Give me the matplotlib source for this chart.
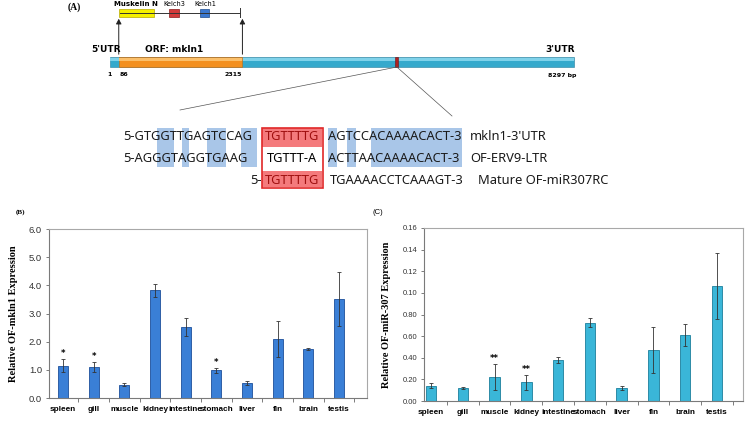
"""Figure: mkln1 transcript / miR307 target site and tissue expression (B, C)."""
import matplotlib
matplotlib.use("Agg")
import matplotlib.pyplot as plt
from matplotlib.patches import Rectangle, FancyArrowPatch

# ---------------------------------------------------------------------
# data
# ---------------------------------------------------------------------
TISSUES = ["spleen", "gill", "muscle", "kidney", "intestine",
           "stomach", "liver", "fin", "brain", "testis"]

MKLN1_MEAN = [1.15, 1.10, 0.47, 3.82, 2.52, 0.98, 0.53, 2.09, 1.74, 3.50]
MKLN1_ERR = [0.23, 0.18, 0.06, 0.24, 0.32, 0.09, 0.06, 0.64, 0.04, 0.96]
MKLN1_SIG = ["*", "*", "", "", "", "*", "", "", "", ""]
MKLN1_TICKS = [0, 1, 2, 3, 4, 5, 6]
MKLN1_TICKLABELS = ["0.0", "1.0", "2.0", "3.0", "4.0", "5.0", "6.0"]

MIR_MEAN = [0.0142, 0.0117, 0.0225, 0.0172, 0.0378,
            0.0726, 0.0117, 0.0474, 0.0609, 0.1065]
MIR_ERR = [0.0021, 0.0009, 0.0120, 0.0068, 0.0025,
           0.0046, 0.0018, 0.0215, 0.0099, 0.0307]
MIR_SIG = ["", "", "**", "**", "", "", "", "", "", ""]
MIR_TICKS = [0, 0.02, 0.04, 0.06, 0.08, 0.10, 0.12, 0.14, 0.16]
# labels exactly as printed in the original panel
MIR_TICKLABELS = ["0.00", "0.20", "0.40", "0.60", "0.80",
                  "0.10", "0.12", "0.14", "0.16"]

# transcript schematic (bp)
GENE_LEN = 8297
ORF_START, ORF_END = 86, 2315
SITE_POS = 5130

SEQ_ROWS = [
    ("5-GTGGTTGAGTCCAG", "TGTTTTG", "AGTCCACAAAACACT-3", "mkln1-3'UTR"),
    ("5-AGGGTAGGTGAAG", "TGTTT-A", "ACTTAACAAAACACT-3", "OF-ERV9-LTR"),
    ("5-", "TGTTTTG", "TGAAAACCTCAAAGT-3", "Mature OF-miR307RC"),
]

SANS = ["Liberation Sans", "DejaVu Sans"]
SERIF = ["Liberation Serif", "DejaVu Serif"]
SEQ_FONT = ["Noto Sans", "DejaVu Sans"]

W, H = 745, 421
fig = plt.figure(figsize=(W / 100, H / 100), dpi=100)

# ---------------------------------------------------------------------
# (A) schematic, drawn in pixel coordinates on an overlay axes
# ---------------------------------------------------------------------
axa = fig.add_axes([0, 0, 1, 1])
axa.set_xlim(0, W)
axa.set_ylim(H, 0)
axa.set_axis_off()

BAR_X0, BAR_X1 = 110, 574


def px(bp):
    return BAR_X0 + (bp - 1) / (GENE_LEN - 1) * (BAR_X1 - BAR_X0)


axa.text(68, 7, "(A)", fontsize=7, fontweight="bold", family=SERIF, va="center")

# protein domain track
axa.plot([120, 240], [12.5, 12.5], color="#333333", lw=0.7)
axa.plot([240, 240], [8, 17], color="#333333", lw=0.7)
axa.add_patch(Rectangle((119, 8.5), 35, 8, fc="#f5f000", ec="#b8a800", lw=0.5))
axa.add_patch(Rectangle((169, 8.5), 10, 8, fc="#d23a3a", ec="#8a1a1a", lw=0.5))
axa.add_patch(Rectangle((200, 8.5), 9, 8, fc="#3b78d0", ec="#1c4a8c", lw=0.5))
axa.text(136, 3.5, "Muskelin N", fontsize=5, fontweight="bold", ha="center", va="center")
axa.text(174, 4.5, "Kelch3", fontsize=4.8, ha="center", va="center")
axa.text(205, 4.5, "Kelch1", fontsize=4.8, ha="center", va="center")

orf_x0 = px(ORF_START) + 4
orf_x1 = px(ORF_END) + 3
for x in (orf_x0, orf_x1):
    axa.add_patch(FancyArrowPatch((x, 57), (x, 16), arrowstyle="-|>,head_length=3,head_width=1.6",
                                  color="#222222", lw=0.7, mutation_scale=1))

# transcript bar
axa.add_patch(Rectangle((BAR_X0, 57), BAR_X1 - BAR_X0, 10, fc="#35a9cc", ec="#2a7f9c", lw=0.4))
axa.add_patch(Rectangle((BAR_X0, 58), BAR_X1 - BAR_X0, 2.5, fc="#7fd2ea", ec="none"))
axa.add_patch(Rectangle((orf_x0, 57), orf_x1 - orf_x0, 10, fc="#f39020", ec="#c06a10", lw=0.4))
axa.add_patch(Rectangle((orf_x0, 58), orf_x1 - orf_x0, 2.5, fc="#fbbf6a", ec="none"))
site_x = px(SITE_POS)
axa.add_patch(Rectangle((site_x - 1.5, 57), 3, 10, fc="#b02020", ec="#701010", lw=0.4))

axa.text(106, 50, "5'UTR", fontsize=6.5, fontweight="bold", ha="center", va="center")
axa.text(174, 50, "ORF: mkln1", fontsize=6.5, fontweight="bold", ha="center", va="center")
axa.text(560, 49, "3'UTR", fontsize=6.5, fontweight="bold", ha="center", va="center")
axa.text(110, 75, "1", fontsize=4.5, fontweight="bold", ha="center", va="center")
axa.text(124, 75, str(ORF_START), fontsize=4.5, fontweight="bold", ha="center", va="center")
axa.text(233, 75, str(ORF_END), fontsize=4.5, fontweight="bold", ha="center", va="center")
axa.text(562, 75, f"{GENE_LEN} bp", fontsize=4.5, fontweight="bold", ha="center", va="center")

# zoom lines from the target site
axa.plot([site_x, 180], [67, 110], color="#555555", lw=0.5)
axa.plot([site_x, 452], [67, 116], color="#555555", lw=0.5)

# sequence alignment: highlights first, then text
for x0, x1 in [(157, 174), (182, 189), (207, 226), (241, 257),
               (328, 337), (347, 356), (371, 462)]:
    axa.add_patch(Rectangle((x0, 128), x1 - x0, 39, fc="#a9c6e8", ec="none"))
axa.add_patch(Rectangle((262, 128), 60, 19, fc="#f47a7c", ec="none"))
axa.add_patch(Rectangle((262, 171), 60, 16, fc="#f47a7c", ec="none"))
axa.add_patch(Rectangle((262, 127.5), 61, 60, fc="none", ec="#e02828", lw=1.2))

row_y = [137, 158, 180]
for i, (left, core, right, name) in enumerate(SEQ_ROWS):
    y = row_y[i]
    core_col = "#a01010" if i != 1 else "black"
    kw = dict(fontsize=9.3, family=SEQ_FONT, va="center", color="#1a1a1a")
    if i < 2:
        axa.text(123, y, left, ha="left", **kw)
    else:
        axa.text(262, y, left, ha="right", **kw)
    axa.text(292, y, core, ha="center", **{**kw, "color": core_col})
    axa.text(328 if i < 2 else 330, y, right, ha="left", **kw)
    axa.text(470 if i < 2 else 478, y, name, ha="left", **kw)


# ---------------------------------------------------------------------
# (B) and (C) bar charts
# ---------------------------------------------------------------------
def bar_panel(ax, means, errs, sig, ticks, ticklabels, ylim, xlim,
              face, edge, ylabel, tick_fs):
    x = list(range(len(TISSUES)))
    ax.bar(x, means, width=0.33, color=face, edgecolor=edge, linewidth=0.6, zorder=2)
    ax.errorbar(x, means, yerr=errs, fmt="none", ecolor="#333333",
                elinewidth=0.6, capsize=1.5, capthick=0.6, zorder=3)
    for xi, m, e, s in zip(x, means, errs, sig):
        if s:
            ax.annotate(s, (xi, m + e), xytext=(0, 0.5), textcoords="offset points",
                        ha="center", va="bottom", fontsize=6, fontweight="bold")
    ax.set_xlim(*xlim)
    ax.set_ylim(*ylim)
    ax.set_yticks(ticks)
    ax.set_yticklabels(ticklabels, family=SANS, fontsize=tick_fs, color="#333333")
    ax.set_xticks(x)
    ax.set_xticklabels(TISSUES, family=SANS, fontsize=5.9, fontweight="bold")
    ax.set_xticks([i + 0.5 for i in range(-1, len(TISSUES) + 1)
                   if xlim[0] <= i + 0.5 <= xlim[1]], minor=True)
    ax.tick_params(axis="x", which="major", length=0, pad=6)
    ax.tick_params(axis="x", which="minor", length=3, width=0.6, color="#666666")
    ax.tick_params(axis="y", length=2, width=0.6, color="#666666", pad=3)
    for side in ("left", "bottom"):
        ax.spines[side].set_color("#7a7a7a")
        ax.spines[side].set_linewidth(0.8)
    for side in ("top", "right"):
        ax.spines[side].set_color("#a8a8a8")
        ax.spines[side].set_linewidth(0.8)
    ax.set_ylabel(ylabel, family=SERIF, fontweight="bold", fontsize=7.5, labelpad=8)


axb = fig.add_axes([49 / W, 1 - 398 / H, 318 / W, 169 / H])
bar_panel(axb, MKLN1_MEAN, MKLN1_ERR, MKLN1_SIG, MKLN1_TICKS, MKLN1_TICKLABELS,
          (0, 6), (-0.46, 9.91), "#3a7fd6", "#1d4f9a",
          "Relative OF-mkln1 Expression", 6.8)

axc = fig.add_axes([424 / W, 1 - 401 / H, 319 / W, 173 / H])
bar_panel(axc, MIR_MEAN, MIR_ERR, MIR_SIG, MIR_TICKS, MIR_TICKLABELS,
          (0, 0.16), (-0.22, 9.82), "#3ab6d8", "#1b7f9c",
          "Relative OF-miR-307 Expression", 5.5)

fig.text(20 / W, 1 - 212 / H, "(B)", fontsize=5, fontweight="bold", family=SERIF,
         ha="center", va="center")
fig.text(378 / W, 1 - 213 / H, "(C)", fontsize=5.5, family=SANS,
         ha="center", va="center")

fig.savefig("out.png", dpi=100)
plt.close(fig)
print("saved out.png")
